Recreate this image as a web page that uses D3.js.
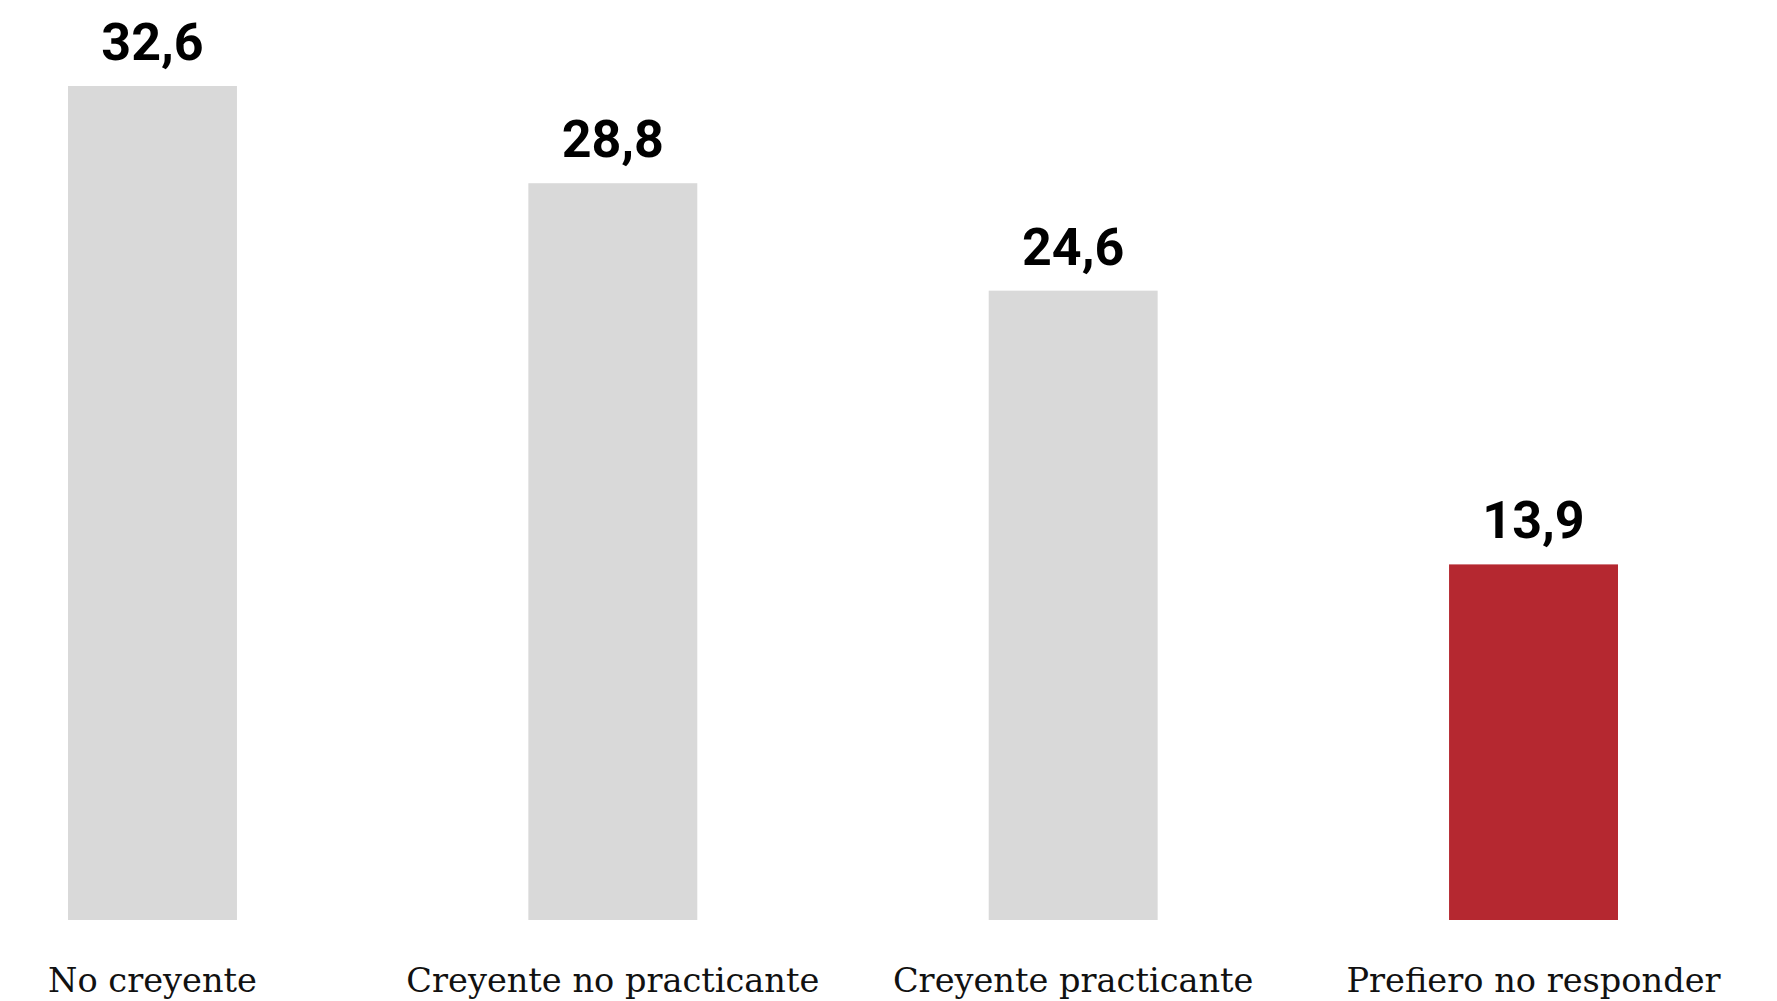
<!DOCTYPE html>
<head>
    <meta charset="utf-8" />
    <script src="https://d3js.org/d3.v7.min.js"></script>
    <style>
        body {
            margin: 0;
            background: #fff;
        }
        .valor {
            font-family: Roboto, sans-serif;
            font-weight: 700;
            font-size: 52px;
            fill: #000;
        }
        .cat {
            font-family: "DejaVu Serif", serif;
            font-size: 33.6px;
            fill: #111;
        }
    </style>
</head>
<body>
    <script>
        var width = 1777,
            height = 1001;

        // datos
        var categorias = ["No creyente", "Creyente no practicante", "Creyente practicante", "Prefiero no responder"];
        var valores = [32.6, 28.8, 24.6, 13.9];
        var etiquetas = ["32,6", "28,8", "24,6", "13,9"];
        var colores = ["#d9d9d9", "#d9d9d9", "#d9d9d9", "#b52830"];

        var svg = d3.select("body")
            .append("svg")
            .attr("width", width)
            .attr("height", height);

        var x = d3.scaleBand()
            .domain(categorias)
            .range([68, 1618])
            .paddingInner(0.633)
            .paddingOuter(0);

        var y = d3.scaleLinear()
            .domain([0, d3.max(valores)])
            .range([920, 86]);

        var datos = categorias.map(function(c, i) {
            return { cat: c, val: valores[i], txt: etiquetas[i], color: colores[i] };
        });

        svg.selectAll("rect")
            .data(datos)
            .join("rect")
            .attr("x", function(d) { return x(d.cat); })
            .attr("y", function(d) { return y(d.val); })
            .attr("width", x.bandwidth())
            .attr("height", function(d) { return y(0) - y(d.val); })
            .attr("fill", function(d) { return d.color; });

        // valores encima de las barras
        svg.selectAll(".valor")
            .data(datos)
            .join("text")
            .attr("class", "valor")
            .attr("x", function(d) { return x(d.cat) + x.bandwidth() / 2; })
            .attr("y", function(d) { return y(d.val) - 26; })
            .attr("text-anchor", "middle")
            .text(function(d) { return d.txt; });

        // eje x sin linea ni ticks
        var ejeX = svg.append("g")
            .attr("transform", "translate(0," + y(0) + ")")
            .call(d3.axisBottom(x).tickSize(0).tickPadding(72));
        ejeX.select(".domain").remove();
        ejeX.selectAll("text")
            .attr("class", "cat")
            .attr("dy", null)
            .attr("font-family", null)
            .attr("font-size", null);
    </script>
</body>
